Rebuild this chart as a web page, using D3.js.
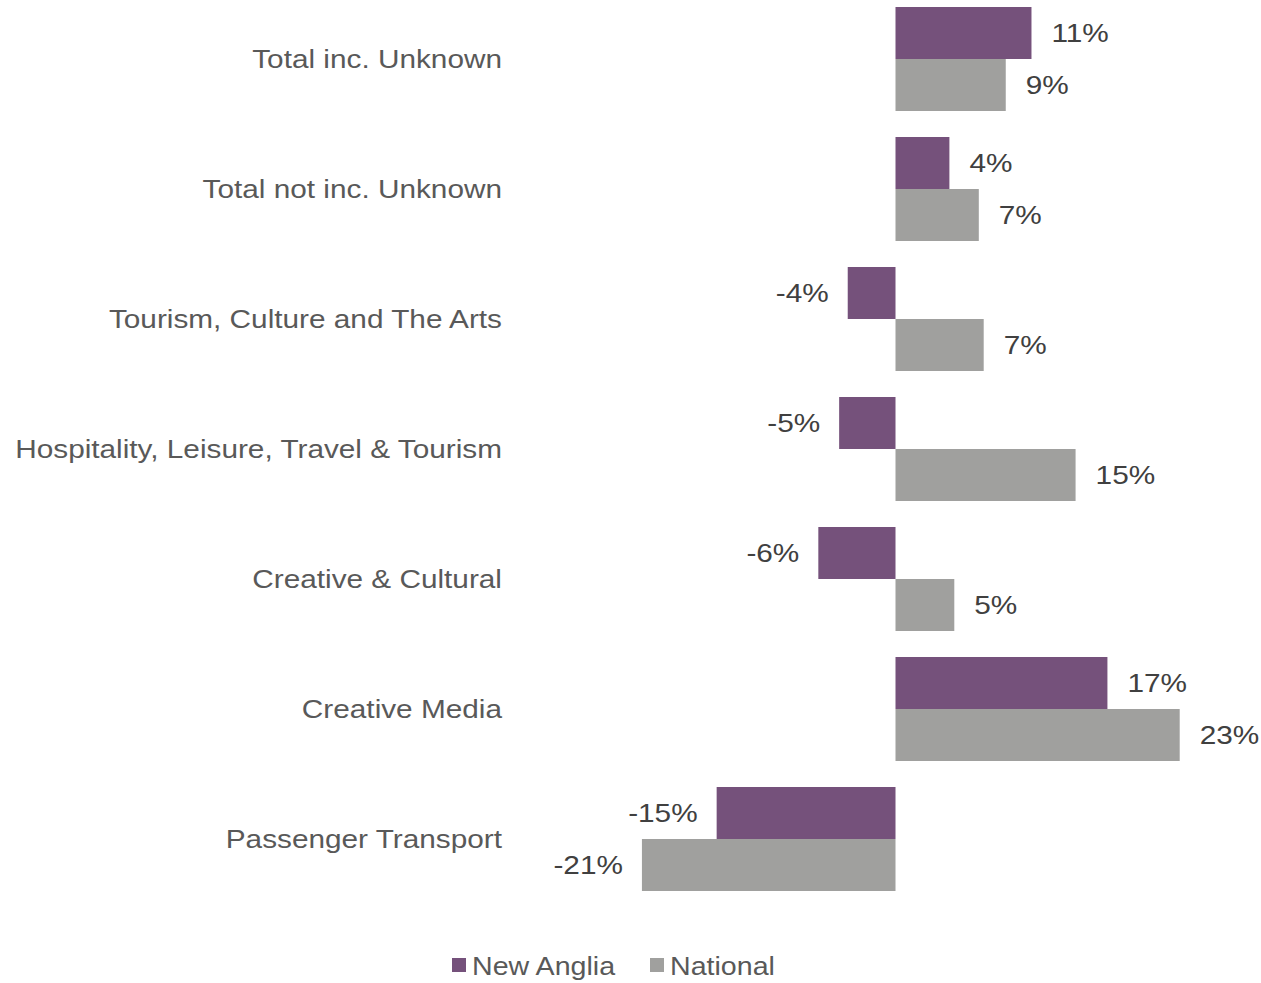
<!DOCTYPE html>
<html>
<head>
<meta charset="utf-8">
<script src="https://cdn.jsdelivr.net/npm/d3@7.9.0/dist/d3.min.js"></script>
<style>
  body { margin: 0; background: #fff; }
  svg { display: block; font-family: "Liberation Sans", Arial, sans-serif; }
</style>
</head>
<body>
<div id="chart"></div>
<script>
// categories, top to bottom
const categories = [
  'Total inc. Unknown',
  'Total not inc. Unknown',
  'Tourism, Culture and The Arts',
  'Hospitality, Leisure, Travel & Tourism',
  'Creative & Cultural',
  'Creative Media',
  'Passenger Transport'
];
const seriesNames = ['New Anglia', 'National'];
// % change
const newAnglia = [11.1, 4.4, -3.9, -4.6, -6.3, 17.3, -14.6];
const national = [9.0, 6.8, 7.2, 14.7, 4.8, 23.2, -20.7];

const colors = { 'New Anglia': '#75517b', 'National': '#a0a09e' };

const width = 1261;
const height = 983;
// the original font is drawn a bit wider than Liberation Sans
const stretch = 1.145;

const svg = d3.select('#chart')
  .append('svg')
  .attr('width', width)
  .attr('height', height);

// scales
const x = d3.scaleLinear()
  .domain([-25, 25])
  .range([895.5 - 25 * 12.25, 895.5 + 25 * 12.25]);

const y0 = d3.scaleBand()
  .domain(categories)
  .range([-6, 904])
  .paddingInner(0.2)
  .paddingOuter(0.1);

const y1 = d3.scaleBand()
  .domain(seriesNames)
  .range([0, y0.bandwidth()]);

const rows = categories.map((c, i) => ({
  category: c,
  values: [
    { series: 'New Anglia', value: newAnglia[i] },
    { series: 'National', value: national[i] }
  ]
}));

const groups = svg.append('g')
  .selectAll('g')
  .data(rows)
  .join('g')
  .attr('transform', (d) => `translate(0,${y0(d.category)})`);

groups.selectAll('rect')
  .data((d) => d.values)
  .join('rect')
  .attr('x', (d) => x(Math.min(0, d.value)))
  .attr('y', (d) => y1(d.series))
  .attr('width', (d) => Math.abs(x(d.value) - x(0)))
  .attr('height', y1.bandwidth())
  .attr('fill', (d) => colors[d.series]);

// data labels
groups.selectAll('text.val')
  .data((d) => d.values)
  .join('text')
  .attr('class', 'val')
  .attr('transform', (d) => {
    const tx = d.value >= 0 ? x(d.value) + 20 : x(d.value) - 19;
    const ty = y1(d.series) + y1.bandwidth() / 2;
    return `translate(${tx},${ty}) scale(${stretch},1)`;
  })
  .attr('dy', '0.35em')
  .attr('text-anchor', (d) => d.value >= 0 ? 'start' : 'end')
  .attr('font-size', 26)
  .attr('fill', '#404040')
  .text((d) => Math.round(d.value) + '%');

// category labels
svg.append('g')
  .selectAll('text')
  .data(categories)
  .join('text')
  .attr('transform', (d) => `translate(502,${y0(d) + y0.bandwidth() / 2}) scale(${stretch},1)`)
  .attr('dy', '0.35em')
  .attr('text-anchor', 'end')
  .attr('font-size', 26)
  .attr('fill', '#595959')
  .text((d) => d);

// legend
const legendItems = [
  { name: 'New Anglia', x: 452 },
  { name: 'National', x: 650 }
];
const legend = svg.append('g');
legend.selectAll('rect')
  .data(legendItems)
  .join('rect')
  .attr('x', (d) => d.x)
  .attr('y', 958)
  .attr('width', 14)
  .attr('height', 14)
  .attr('fill', (d) => colors[d.name]);
legend.selectAll('text')
  .data(legendItems)
  .join('text')
  .attr('transform', (d) => `translate(${d.x + 20},966) scale(1.1,1)`)
  .attr('dy', '0.35em')
  .attr('font-size', 26)
  .attr('fill', '#595959')
  .text((d) => d.name);
</script>
</body>
</html>
